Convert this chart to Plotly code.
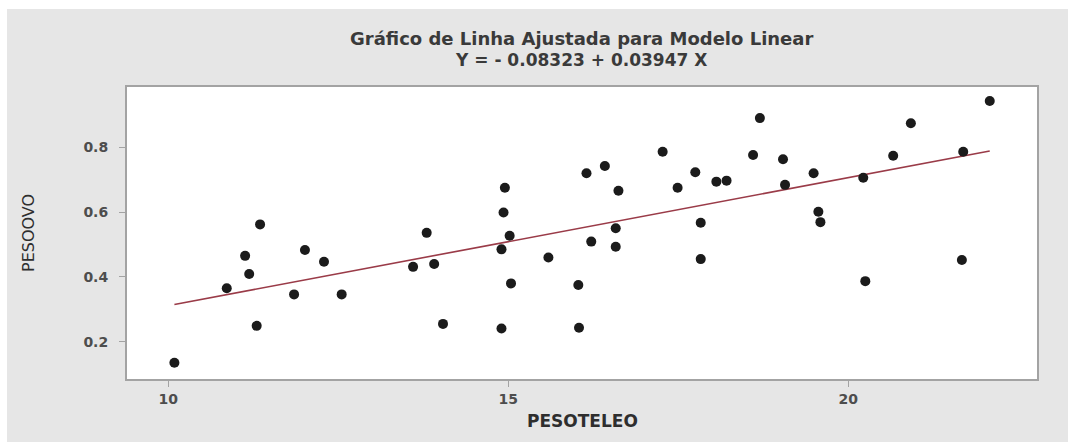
import plotly.graph_objects as go

# Fitted model coefficients
INTERCEPT = -0.08323
SLOPE = 0.03947

# Observations: PESOTELEO (x) vs PESOOVO (y)
peso_teleo = [
    10.09, 10.86, 11.13, 11.19, 11.35, 11.30, 12.01, 12.29, 11.85, 12.55,
    13.80, 13.60, 13.91, 14.04, 14.95, 14.93, 15.02, 14.90, 15.04, 14.90,
    15.59, 16.03, 16.04, 16.15, 16.42, 16.62, 16.58, 16.22, 16.58, 17.27,
    17.49, 17.75, 17.83, 17.83, 18.06, 18.21, 18.70, 18.60, 19.04, 19.07,
    19.49, 19.56, 19.59, 20.22, 20.25, 20.66, 20.92, 21.69, 21.67, 22.08,
]
peso_ovo = [
    0.135, 0.365, 0.465, 0.409, 0.562, 0.249, 0.483, 0.447, 0.346, 0.346,
    0.536, 0.431, 0.440, 0.255, 0.675, 0.599, 0.527, 0.485, 0.380, 0.241,
    0.460, 0.375, 0.243, 0.720, 0.742, 0.666, 0.550, 0.509, 0.493, 0.786,
    0.675, 0.723, 0.567, 0.455, 0.694, 0.697, 0.890, 0.776, 0.763, 0.684,
    0.720, 0.601, 0.569, 0.706, 0.387, 0.774, 0.874, 0.786, 0.452, 0.943,
]

x_ticks = [10, 15, 20]
y_ticks = [0.2, 0.4, 0.6, 0.8]

title_main = "Gráfico de Linha Ajustada para Modelo Linear"
title_eq = f"Y = - {abs(INTERCEPT):.5f} + {SLOPE:.5f} X"

W, H = 1076, 445
ML, MR, MT, MB = 127, 39, 87, 66
PW, PH = W - ML - MR, H - MT - MB


def px_x(p):
    return (p - ML) / PW


def px_y(p):
    return (H - MB - p) / PH


fit_x = [min(peso_teleo), max(peso_teleo)]
fit_y = [INTERCEPT + SLOPE * v for v in fit_x]

fig = go.Figure()
fig.add_trace(go.Scatter(
    x=fit_x, y=fit_y, mode="lines",
    line=dict(color="#9a3b48", width=1.6),
    hoverinfo="skip",
))
fig.add_trace(go.Scatter(
    x=peso_teleo, y=peso_ovo, mode="markers",
    marker=dict(symbol="circle", size=10, color="#1b1b1b"),
))

tick_font = dict(family="DejaVu Sans", size=14, color="#4d4d4d", weight="bold")
axis_common = dict(
    showgrid=False, zeroline=False,
    showline=True, mirror=True, linecolor="#a3a3a3", linewidth=2,
    ticks="outside", ticklen=6, tickcolor="#a3a3a3", tickwidth=1,
    tickfont=tick_font,
)

fig.update_layout(
    width=W, height=H,
    margin=dict(l=ML, r=MR, t=MT, b=MB),
    paper_bgcolor="white", plot_bgcolor="white",
    showlegend=False,
    xaxis=dict(range=[9.393, 22.775], tickvals=x_ticks,
               ticktext=[str(v) for v in x_ticks], **axis_common),
    yaxis=dict(range=[0.085, 0.986], tickvals=y_ticks,
               ticktext=[f"{v:.1f}" for v in y_ticks],
               ticklabelstandoff=8, **axis_common),
    shapes=[
        dict(type="rect", xref="paper", yref="paper", layer="below",
             x0=px_x(7), x1=px_x(1068), y0=px_y(442), y1=px_y(9),
             fillcolor="#e6e6e6", line=dict(width=0)),
        dict(type="rect", xref="paper", yref="paper", layer="below",
             x0=0, x1=1, y0=0, y1=1,
             fillcolor="white", line=dict(width=0)),
    ],
    annotations=[
        dict(text=title_main, xref="paper", yref="paper",
             x=px_x(581), y=px_y(38), xanchor="center", yanchor="middle",
             showarrow=False,
             font=dict(family="DejaVu Sans", size=18, color="#3a3a3a", weight="bold")),
        dict(text=title_eq, xref="paper", yref="paper",
             x=px_x(581), y=px_y(60), xanchor="center", yanchor="middle",
             showarrow=False,
             font=dict(family="DejaVu Sans", size=17, color="#3a3a3a", weight="bold")),
        dict(text="PESOTELEO", xref="paper", yref="paper",
             x=px_x(582), y=px_y(421), xanchor="center", yanchor="middle",
             showarrow=False,
             font=dict(family="DejaVu Sans", size=17, color="#2e2e2e", weight="bold")),
        dict(text="PESOOVO", xref="paper", yref="paper",
             x=px_x(28), y=px_y(233), xanchor="center", yanchor="middle",
             textangle=-90, showarrow=False,
             font=dict(family="DejaVu Sans", size=16, color="#2e2e2e")),
    ],
)

fig.write_html("out.html")
